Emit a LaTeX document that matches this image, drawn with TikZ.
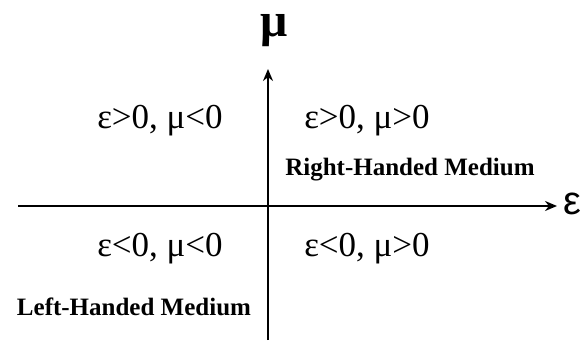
\documentclass[tikz,border=0pt]{standalone}
\usepackage{fontspec}
\setmainfont{Liberation Serif}
\newfontfamily\axsans{Liberation Sans}
\usetikzlibrary{arrows.meta}
\begin{document}
\begin{tikzpicture}[x=1pt,y=1pt,
  axis/.style={line width=2pt,-{Stealth[length=12pt,width=10pt]}},
  quad/.style={anchor=base,inner sep=0pt,font=\fontsize{35}{38}\selectfont},
  medium/.style={anchor=base,inner sep=0pt,font=\fontsize{25}{27}\selectfont\bfseries}]
\useasboundingbox (0,0) rectangle (585,340);
\coordinate (xl) at (18,134);
\coordinate (xr) at (557,134);
\coordinate (yb) at (268,0);
\coordinate (yt) at (268,271);
\draw[axis] (xl) -- (xr);
\draw[axis] (yb) -- (yt);
\node[inner sep=0pt,font=\axsans\fontsize{40}{44}\selectfont] (eps) at (572,136) {ε};
\node[inner sep=0pt,font=\fontsize{48}{52}\selectfont\bfseries] (mu) at (274,309) {μ};
\node[quad] (q2) at (160,211) {ε>0, μ<0};
\node[quad] (q1) at (367,211) {ε>0, μ>0};
\node[quad] (q3) at (160,84) {ε<0, μ<0};
\node[quad] (q4) at (367,84) {ε<0, μ>0};
\node[medium] (rh) at (410,164) {Right-Handed Medium};
\node[medium] (lh) at (134,25) {Left-Handed Medium};
\end{tikzpicture}
\end{document}
